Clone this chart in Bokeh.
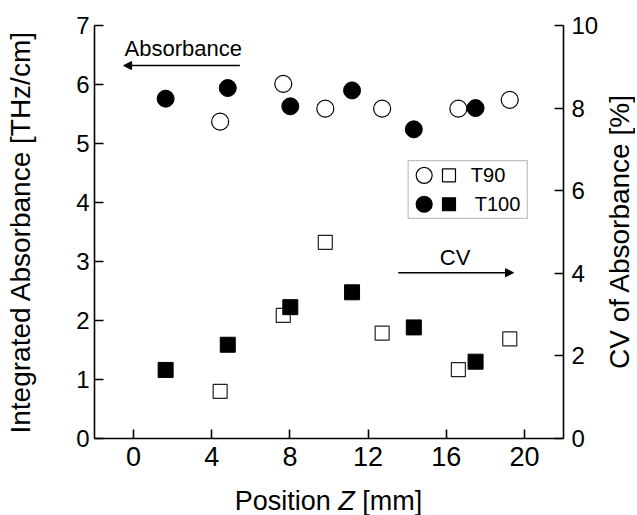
import math
from bokeh.plotting import figure
from bokeh.layouts import column, row
from bokeh.models import (Range1d, LinearAxis, FixedTicker, Label, Arrow,
                          NormalHead, BoxAnnotation, ColumnDataSource, Div)
from bokeh.embed import file_html
from bokeh.resources import INLINE

# ---- data ----
z_t90 = [4.43, 7.66, 9.81, 12.72, 16.62, 19.25]          # Position Z [mm]
z_t100 = [1.64, 4.82, 8.02, 11.18, 14.34, 17.50]
abs_t90 = [5.37, 6.01, 5.59, 5.59, 5.59, 5.74]           # Integrated absorbance [THz/cm]
abs_t100 = [5.76, 5.94, 5.63, 5.90, 5.24, 5.60]
cv_t90 = [1.14, 2.98, 4.75, 2.55, 1.67, 2.41]            # CV of absorbance [%]
cv_t100 = [1.66, 2.27, 3.18, 3.54, 2.69, 1.86]

x_ticks = [0, 4, 8, 12, 16, 20]
left_ticks = [0, 1, 2, 3, 4, 5, 6, 7]
right_ticks = [0, 2, 4, 6, 8, 10]
series_names = ["T90", "T100"]

FONT = "Liberation Sans"

p = figure(frame_width=469, frame_height=413,
           x_range=Range1d(-2, 22), y_range=Range1d(0, 7),
           output_backend="svg", toolbar_location=None,
           min_border_left=94, min_border_right=40,
           min_border_top=25, min_border_bottom=42,
           background_fill_color="white", border_fill_color="white",
           outline_line_color=None)
p.grid.visible = False
p.extra_y_ranges = {"cv": Range1d(0, 10)}

right_axis = LinearAxis(y_range_name="cv")
p.add_layout(right_axis, "right")


def style_axis(ax, ticks, size, standoff):
    ax.ticker = FixedTicker(ticks=ticks)
    ax.axis_line_color = "black"
    ax.axis_line_width = 1.6
    ax.major_tick_line_color = "black"
    ax.major_tick_line_width = 1.6
    ax.major_tick_in = 9
    ax.major_tick_out = 0
    ax.minor_tick_in = 0
    ax.minor_tick_out = 0
    ax.major_label_text_font = FONT
    ax.major_label_text_font_size = size
    ax.major_label_text_color = "black"
    ax.major_label_standoff = standoff
    ax.axis_label_text_font = FONT
    ax.axis_label_text_font_size = "28px"
    ax.axis_label_text_font_style = "normal"
    ax.axis_label_text_color = "black"


style_axis(p.xaxis[0], x_ticks, "27px", 8)
style_axis(p.yaxis[0], left_ticks, "24px", 5)
style_axis(right_axis, right_ticks, "24px", 8)
p.xaxis[0].axis_label = None
right_axis.axis_label = None

p.yaxis[0].axis_label = "Integrated Absorbance [THz/cm]"
p.yaxis[0].axis_label_standoff = 37

src90 = ColumnDataSource(dict(z=z_t90, a=abs_t90, cv=cv_t90))
src100 = ColumnDataSource(dict(z=z_t100, a=abs_t100, cv=cv_t100))

# absorbance (circles, left axis)
p.scatter("z", "a", source=src90, marker="circle", size=17,
          fill_color="white", line_color="black", line_width=1.2)
p.scatter("z", "a", source=src100, marker="circle", size=17,
          fill_color="black", line_color="black")
# CV (squares, right axis)
p.scatter("z", "cv", source=src90, marker="square", size=14,
          fill_color="white", line_color="#222222", line_width=1.2,
          y_range_name="cv")
p.scatter("z", "cv", source=src100, marker="square", size=15,
          fill_color="black", line_color="black", y_range_name="cv")

# ---- annotations: arrows ----
p.add_layout(Label(x=2.54, y=6.61, text="Absorbance", text_align="center",
                   text_baseline="middle", text_font=FONT,
                   text_font_size="22px", text_color="black"))
p.add_layout(Arrow(end=NormalHead(size=8, fill_color="black", line_color="black"),
                   x_start=5.44, y_start=6.32, x_end=-0.51, y_end=6.32,
                   line_width=1.5, line_color="black"))
p.add_layout(Label(x=16.45, y=3.06, text="CV", text_align="center",
                   text_baseline="middle", text_font=FONT,
                   text_font_size="22px", text_color="black"))
p.add_layout(Arrow(end=NormalHead(size=8, fill_color="black", line_color="black"),
                   x_start=13.54, y_start=2.81, x_end=19.44, y_end=2.81,
                   line_width=1.5, line_color="black"))

# ---- legend (manual, circle + square side by side) ----
p.add_layout(BoxAnnotation(left=14.05, right=20.15, top=4.71, bottom=3.73,
                           fill_color="white", fill_alpha=1.0,
                           line_color="#333333", line_width=1.2,
                           level="underlay"))
leg_y = [4.46, 3.97]
leg_fill = ["white", "black"]
p.scatter(x=[14.87, 14.87], y=leg_y, marker="circle", size=16,
          fill_color=leg_fill, line_color="black", line_width=1.2)
p.scatter(x=[16.14, 16.14], y=leg_y, marker="square", size=13,
          fill_color=leg_fill, line_color="black", line_width=1.2)
for name, lx, ly in zip(series_names, [17.26, 17.46], leg_y):
    p.add_layout(Label(x=lx, y=ly, text=name, text_align="left",
                       text_baseline="middle", text_font=FONT,
                       text_font_size="20px", text_color="black"))

# ---- x-axis title with italic Z ----
xtitle = Div(text="Position <i>Z</i> [mm]", width=469, height=35,
             margin=(0, 0, 0, 94),
             styles={"font-family": FONT, "font-size": "27px",
                     "text-align": "center", "line-height": "27px",
                     "padding-top": "8px", "color": "black",
                     "box-sizing": "border-box"})

# ---- right-axis title (reads bottom-to-top) ----
rtitle = Div(text="CV of Absorbance [%]", width=34, height=464,
             margin=(0, 0, 0, 0),
             styles={"font-family": FONT, "font-size": "28px",
                     "writing-mode": "vertical-rl",
                     "transform": "rotate(180deg)",
                     "text-align": "center", "line-height": "34px",
                     "white-space": "nowrap", "color": "black"})

layout = row(column(p, xtitle, spacing=0), rtitle, spacing=0)
open("out.html", "w").write(file_html(layout, INLINE))
